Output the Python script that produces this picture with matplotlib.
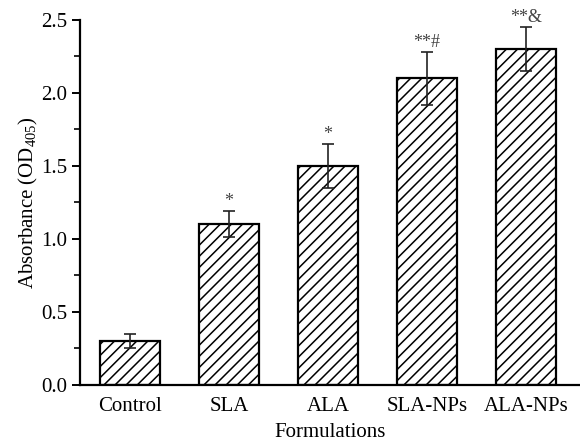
import matplotlib
matplotlib.use("Agg")
import matplotlib.pyplot as plt
import numpy as np

categories = ["Control", "SLA", "ALA", "SLA-NPs", "ALA-NPs"]
values = [0.30, 1.10, 1.50, 2.10, 2.30]
errors = [0.05, 0.09, 0.15, 0.18, 0.15]
marks = ["", "*", "*", "**#", "**&"]

plt.rcParams['font.family'] = ['Liberation Serif', 'DejaVu Serif']
plt.rcParams['mathtext.default'] = 'regular'
plt.rcParams['hatch.linewidth'] = 1.1

fig = plt.figure(figsize=(5.8, 4.41), dpi=100)
ax = fig.add_axes([0.138, 0.127, 0.862, 0.828])

x = np.arange(len(categories))
ax.bar(x, values, width=0.6, color='white', edgecolor='black', linewidth=1.6,
       hatch='///', zorder=2)
ax.errorbar(x, values, yerr=errors, fmt='none', ecolor='#222222', elinewidth=1.2,
            capsize=4, capthick=1.2, zorder=3)
for xi, v, e, m in zip(x, values, errors, marks):
    if m:
        ax.text(xi, v + e + 0.005, m, ha='center', va='bottom', fontsize=13, color='#444444')

ax.set_xlim(-0.505, 4.545)
ax.set_ylim(0, 2.5)
ax.set_yticks(np.arange(0, 2.51, 0.5))
ax.set_yticks(np.arange(0.25, 2.5, 0.5), minor=True)
ax.set_yticklabels([f"{t:.1f}" for t in np.arange(0, 2.51, 0.5)])
ax.set_xticks(x)
ax.set_xticklabels(categories)
ax.tick_params(axis='x', length=0, labelsize=15, pad=9)
ax.tick_params(axis='y', which='major', direction='out', length=6, width=1.4, labelsize=15, pad=3)
ax.tick_params(axis='y', which='minor', direction='out', length=4, width=1.2)
for s in ['top', 'right']:
    ax.spines[s].set_visible(False)
for s in ['left', 'bottom']:
    ax.spines[s].set_linewidth(1.6)
ax.set_xlabel("Formulations", fontsize=15, labelpad=5)
ax.set_ylabel("Absorbance (OD$_{405}$)", fontsize=15, labelpad=1)

fig.savefig("out.png", dpi=100)
